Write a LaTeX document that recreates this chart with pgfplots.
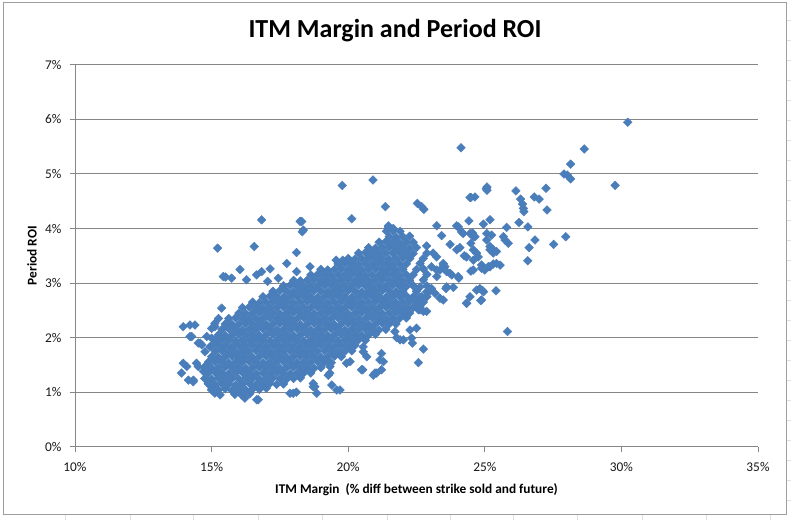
\documentclass[border=0pt]{standalone}
\usepackage{fontspec}
\setmainfont{Carlito}
\usepackage{pgfplots}
\pgfplotsset{compat=1.18}
\definecolor{excelblue}{HTML}{4A7EBB}
\definecolor{axgray}{HTML}{868686}
\begin{document}
\begin{tikzpicture}
\useasboundingbox (0,0) rectangle (593.25pt,390pt);
\fill[white] (0,0) rectangle (593.25pt,390pt);
\foreach \x in {48.75,97.5,144.75,193.5,241.5,290.25,337.5,384.75,432.75,481.5,529.5,577.5}
  \draw[gray!25,line width=0.5pt] (\x pt,0) -- (\x pt,3.75pt);
\foreach \y in {15,30,...,375}
  \draw[gray!25,line width=0.5pt] (589.5pt,\y pt) -- (593.25pt,\y pt);
\draw[axgray!80, line width=0.75pt] (2.25pt,3.75pt) rectangle (589.5pt,387.75pt);
\begin{axis}[
  at={(56.25pt,55pt)}, anchor=south west,
  scale only axis, width=512.25pt, height=286.3pt,
  xmin=10, xmax=35, ymin=0, ymax=7,
  axis lines*=left,
  axis line style={axgray, line width=0.75pt},
  xtick={10,15,20,25,30,35}, xticklabels={10\%,15\%,20\%,25\%,30\%,35\%},
  ytick={0,1,2,3,4,5,6,7}, yticklabels={0\%,1\%,2\%,3\%,4\%,5\%,6\%,7\%},
  tick align=outside, major tick length=3.75pt,
  tick style={axgray, line width=0.75pt},
  ymajorgrids, grid style={axgray, line width=0.75pt},
  ticklabel style={font=\fontsize{10}{12}\selectfont, color=black!90},
  xticklabel style={yshift=-4.5pt},
  yticklabel style={xshift=-3pt},
  title={ITM Margin and Period ROI},
  title style={font=\fontsize{19.5}{23}\selectfont\bfseries, at={(0.4685,1.068)}, anchor=center},
  xlabel={ITM Margin~ (\% diff between strike sold and future)},
  xlabel style={font=\fontsize{10}{12}\selectfont\bfseries, at={(axis description cs:0.5,-0.1135)}, anchor=center},
  ylabel={Period ROI},
  ylabel style={font=\fontsize{10}{12}\selectfont\bfseries, at={(axis description cs:-0.063,0.5)}, anchor=center},
]
\addplot[only marks, mark=square*, mark size=2.3pt,
  mark options={rotate=45, fill=excelblue, draw=excelblue, line width=0.3pt}]
coordinates {
(30.23,5.95)(24.13,5.48)(28.64,5.46)(28.14,5.18)(27.90,5.00)(28.02,4.98)(28.14,4.91)(29.77,4.79)
(25.08,4.76)(25.08,4.70)(24.46,4.57)(24.64,4.58)(26.14,4.69)(27.24,4.74)(26.31,4.54)(26.38,4.45)
(26.41,4.37)(26.43,4.31)(26.81,4.58)(26.99,4.54)(27.28,4.34)(26.25,4.11)(26.58,4.03)(25.80,4.02)
(25.19,4.16)(24.95,4.08)(24.42,4.14)(24.03,4.03)(24.15,3.94)(24.55,3.92)(24.58,3.85)(25.07,3.91)
(25.25,3.88)(25.68,3.85)(25.74,3.79)(25.86,3.73)(26.84,3.79)(26.62,3.65)(27.52,3.71)(27.96,3.85)
(26.57,3.41)(23.73,3.71)(24.09,3.65)(24.25,3.50)(24.49,3.73)(24.58,3.61)(24.70,3.55)(24.76,3.48)
(25.19,3.61)(25.31,3.55)(25.43,3.58)(23.48,3.36)(23.54,3.30)(23.36,3.24)(23.73,3.18)(24.49,3.22)
(24.88,3.27)(25.00,3.24)(25.13,3.30)(25.31,3.35)(25.56,3.33)(24.05,3.09)(23.58,2.90)(23.85,2.92)
(23.36,2.72)(24.70,2.87)(24.92,2.86)(25.41,2.86)(24.46,2.75)(24.34,2.63)(24.85,2.68)(25.83,2.11)
(19.78,4.79)(20.91,4.89)(21.36,4.40)(20.13,4.18)(22.53,4.46)(22.69,4.40)(22.77,4.35)(24.49,4.57)
(25.05,4.73)(23.24,4.05)(23.42,3.87)(23.97,4.05)(24.21,3.91)(21.47,4.02)(21.65,3.97)(22.87,3.68)
(23.11,3.55)(23.24,3.48)(23.48,3.33)(24.03,3.12)(23.05,2.90)(23.60,2.93)(22.57,2.51)(22.75,2.48)
(22.87,2.48)(24.33,2.63)(24.88,2.69)(22.26,2.14)(22.50,2.17)(21.71,2.11)(21.90,1.96)(22.35,1.90)
(22.75,1.79)(22.57,1.54)(21.16,1.59)(21.22,1.41)(21.04,1.35)(20.92,1.31)(20.55,1.74)(20.53,1.41)
(20.07,1.56)(19.33,1.47)(19.27,1.31)(18.72,1.10)(19.40,1.13)(19.70,1.04)(18.60,3.30)(18.24,4.13)
(18.36,3.97)(16.83,4.16)(18.30,4.13)(18.32,3.94)(15.22,3.64)(16.56,3.67)(18.11,3.56)(17.75,3.36)
(16.04,3.25)(15.51,3.11)(15.73,3.09)(16.28,3.06)(16.65,3.15)(16.83,3.21)(17.14,3.26)(17.05,3.03)
(17.44,3.09)(15.37,2.54)(15.25,2.35)(15.12,2.26)(15.00,2.17)(13.96,2.20)(14.21,2.23)(14.27,2.02)
(14.64,1.87)(14.51,1.90)(14.76,1.74)(15.00,1.99)(13.96,1.53)(14.09,1.47)(13.90,1.35)(14.15,1.22)
(14.33,1.19)(14.51,1.47)(14.70,1.38)(14.88,1.50)(14.88,1.16)(15.00,1.04)(15.12,0.98)(15.31,0.95)
(17.99,0.98)(16.71,0.86)(16.22,0.89)(18.78,1.10)(18.85,0.98)
(15.43,3.12)(18.11,3.21)(19.56,3.42)(19.80,3.42)(19.27,1.56)(19.33,1.35)(19.58,1.04)(19.94,1.53)
(20.49,1.41)(20.98,1.35)(21.29,1.56)(21.22,1.71)(20.55,1.83)(20.68,1.65)(21.77,2.00)(22.02,1.96)
(22.32,1.99)(22.63,2.51)(23.18,2.81)(23.24,3.12)(18.72,1.16)(17.87,0.98)(16.65,0.86)(18.10,1.00)
(14.45,1.53)(14.76,1.47)(14.33,1.22)(14.39,2.23)(14.21,2.02)(14.58,1.90)(14.82,2.02)(14.94,1.83)
(15.12,2.20)(23.05,3.30)(23.24,3.24)(23.60,3.21)(23.79,3.15)(22.63,2.93)(22.87,2.84)(22.69,2.75)
(23.48,2.69)(23.97,3.61)(24.33,3.48)(24.58,3.42)(24.88,3.33)(25.19,3.30)(25.43,3.36)(24.58,3.24)
(24.82,2.90)(24.95,2.84)(25.07,3.79)(25.19,3.67)(25.31,3.61)(24.46,3.91)(24.64,3.85)
(15.85,0.96)(16.10,0.95)(16.40,0.97)
(15.00,1.05)(15.25,1.04)(15.50,1.06)(15.75,1.03)(16.00,1.05)(16.25,1.04)(16.50,1.06)(16.75,1.05)(17.00,1.07)
(14.88,1.15)(15.13,1.14)(15.38,1.16)(15.63,1.15)(15.88,1.13)(16.13,1.15)(16.38,1.16)(16.63,1.14)(16.88,1.15)(17.13,1.16)(17.38,1.14)(17.63,1.15)
(14.75,1.25)(15.00,1.24)(15.25,1.26)(15.50,1.25)(15.75,1.25)(16.00,1.24)(16.25,1.26)(16.50,1.25)(16.75,1.24)(17.00,1.25)(17.25,1.26)(17.50,1.25)(17.75,1.24)(18.00,1.25)(18.25,1.26)
(14.88,1.35)(15.13,1.36)(15.38,1.35)(15.63,1.34)(15.88,1.35)(16.13,1.36)(16.38,1.35)(16.63,1.34)(16.88,1.35)(17.13,1.35)(17.38,1.36)(17.63,1.35)(17.88,1.34)(18.13,1.35)(18.38,1.36)(18.63,1.35)
(14.75,1.45)(15.00,1.44)(15.25,1.45)(15.50,1.46)(15.75,1.45)(16.00,1.45)(16.25,1.44)(16.50,1.45)(16.75,1.46)(17.00,1.45)(17.25,1.45)(17.50,1.44)(17.75,1.45)(18.00,1.46)(18.25,1.45)(18.50,1.45)(18.75,1.44)(19.00,1.45)
(14.88,1.55)(15.13,1.56)(15.38,1.55)(15.63,1.54)(15.88,1.55)(16.13,1.55)(16.38,1.56)(16.63,1.55)(16.88,1.54)(17.13,1.55)(17.38,1.55)(17.63,1.56)(17.88,1.55)(18.13,1.54)(18.38,1.55)(18.63,1.55)(18.88,1.56)(19.13,1.55)(19.38,1.54)
(15.00,1.65)(15.25,1.64)(15.50,1.65)(15.75,1.66)(16.00,1.65)(16.25,1.65)(16.50,1.64)(16.75,1.65)(17.00,1.66)(17.25,1.65)(17.50,1.65)(17.75,1.64)(18.00,1.65)(18.25,1.66)(18.50,1.65)(18.75,1.65)(19.00,1.64)(19.25,1.65)(19.50,1.66)(19.75,1.65)
(15.13,1.75)(15.38,1.76)(15.63,1.75)(15.88,1.74)(16.13,1.75)(16.38,1.75)(16.63,1.76)(16.88,1.75)(17.13,1.74)(17.38,1.75)(17.63,1.75)(17.88,1.76)(18.13,1.75)(18.38,1.74)(18.63,1.75)(18.88,1.75)(19.13,1.76)(19.38,1.75)(19.63,1.74)(19.88,1.75)(20.13,1.76)
(15.00,1.85)(15.25,1.86)(15.50,1.85)(15.75,1.84)(16.00,1.85)(16.25,1.85)(16.50,1.86)(16.75,1.85)(17.00,1.84)(17.25,1.85)(17.50,1.85)(17.75,1.86)(18.00,1.85)(18.25,1.84)(18.50,1.85)(18.75,1.85)(19.00,1.86)(19.25,1.85)(19.50,1.84)(19.75,1.85)(20.00,1.85)(20.25,1.86)
(15.13,1.95)(15.38,1.96)(15.63,1.95)(15.88,1.94)(16.13,1.95)(16.38,1.95)(16.63,1.96)(16.88,1.95)(17.13,1.94)(17.38,1.95)(17.63,1.95)(17.88,1.96)(18.13,1.95)(18.38,1.94)(18.63,1.95)(18.88,1.95)(19.13,1.96)(19.38,1.95)(19.63,1.94)(19.88,1.95)(20.13,1.95)(20.38,1.96)(20.63,1.95)
(15.25,2.05)(15.50,2.04)(15.75,2.05)(16.00,2.06)(16.25,2.05)(16.50,2.05)(16.75,2.04)(17.00,2.05)(17.25,2.06)(17.50,2.05)(17.75,2.05)(18.00,2.04)(18.25,2.05)(18.50,2.06)(18.75,2.05)(19.00,2.05)(19.25,2.04)(19.50,2.05)(19.75,2.06)(20.00,2.05)(20.25,2.05)(20.50,2.04)(20.75,2.05)(21.00,2.06)
(15.38,2.15)(15.63,2.16)(15.88,2.15)(16.13,2.14)(16.38,2.15)(16.63,2.15)(16.88,2.16)(17.13,2.15)(17.38,2.14)(17.63,2.15)(17.88,2.15)(18.13,2.16)(18.38,2.15)(18.63,2.14)(18.88,2.15)(19.13,2.15)(19.38,2.16)(19.63,2.15)(19.88,2.14)(20.13,2.15)(20.38,2.15)(20.63,2.16)(20.88,2.15)(21.13,2.14)(21.38,2.15)
(15.50,2.25)(15.75,2.24)(16.00,2.25)(16.25,2.26)(16.50,2.25)(16.75,2.25)(17.00,2.24)(17.25,2.25)(17.50,2.26)(17.75,2.25)(18.00,2.25)(18.25,2.24)(18.50,2.25)(18.75,2.26)(19.00,2.25)(19.25,2.25)(19.50,2.24)(19.75,2.25)(20.00,2.26)(20.25,2.25)(20.50,2.25)(20.75,2.24)(21.00,2.25)(21.25,2.26)(21.50,2.25)(21.75,2.25)
(15.63,2.35)(15.88,2.36)(16.13,2.35)(16.38,2.34)(16.63,2.35)(16.88,2.35)(17.13,2.36)(17.38,2.35)(17.63,2.34)(17.88,2.35)(18.13,2.35)(18.38,2.36)(18.63,2.35)(18.88,2.34)(19.13,2.35)(19.38,2.35)(19.63,2.36)(19.88,2.35)(20.13,2.34)(20.38,2.35)(20.63,2.35)(20.88,2.36)(21.13,2.35)(21.38,2.34)(21.63,2.35)(21.88,2.35)(22.13,2.36)
(16.00,2.45)(16.25,2.44)(16.50,2.45)(16.75,2.46)(17.00,2.45)(17.25,2.45)(17.50,2.44)(17.75,2.45)(18.00,2.46)(18.25,2.45)(18.50,2.45)(18.75,2.44)(19.00,2.45)(19.25,2.46)(19.50,2.45)(19.75,2.45)(20.00,2.44)(20.25,2.45)(20.50,2.46)(20.75,2.45)(21.00,2.45)(21.25,2.44)(21.50,2.45)(21.75,2.46)(22.00,2.45)(22.25,2.45)
(16.13,2.55)(16.38,2.56)(16.63,2.55)(16.88,2.54)(17.13,2.55)(17.38,2.55)(17.63,2.56)(17.88,2.55)(18.13,2.54)(18.38,2.55)(18.63,2.55)(18.88,2.56)(19.13,2.55)(19.38,2.54)(19.63,2.55)(19.88,2.55)(20.13,2.56)(20.38,2.55)(20.63,2.54)(20.88,2.55)(21.13,2.55)(21.38,2.56)(21.63,2.55)(21.88,2.54)(22.13,2.55)(22.38,2.55)(22.63,2.56)
(16.50,2.65)(16.75,2.64)(17.00,2.65)(17.25,2.66)(17.50,2.65)(17.75,2.65)(18.00,2.64)(18.25,2.65)(18.50,2.66)(18.75,2.65)(19.00,2.65)(19.25,2.64)(19.50,2.65)(19.75,2.66)(20.00,2.65)(20.25,2.65)(20.50,2.64)(20.75,2.65)(21.00,2.66)(21.25,2.65)(21.50,2.65)(21.75,2.64)(22.00,2.65)(22.25,2.66)(22.50,2.65)(22.75,2.65)
(16.88,2.75)(17.13,2.76)(17.38,2.75)(17.63,2.74)(17.88,2.75)(18.13,2.75)(18.38,2.76)(18.63,2.75)(18.88,2.74)(19.13,2.75)(19.38,2.75)(19.63,2.76)(19.88,2.75)(20.13,2.74)(20.38,2.75)(20.63,2.75)(20.88,2.76)(21.13,2.75)(21.38,2.74)(21.63,2.75)(21.88,2.75)(22.13,2.76)(22.38,2.75)(22.63,2.74)(22.88,2.75)
(17.25,2.85)(17.50,2.86)(17.75,2.85)(18.00,2.84)(18.25,2.85)(18.50,2.85)(18.75,2.86)(19.00,2.85)(19.25,2.84)(19.50,2.85)(19.75,2.85)(20.00,2.86)(20.25,2.85)(20.50,2.84)(20.75,2.85)(21.00,2.85)(21.25,2.86)(21.50,2.85)(21.75,2.84)(22.00,2.85)(22.50,2.85)(23.00,2.86)
(17.63,2.95)(17.88,2.96)(18.13,2.95)(18.38,2.94)(18.63,2.95)(18.88,2.95)(19.13,2.96)(19.38,2.95)(19.63,2.94)(19.88,2.95)(20.13,2.95)(20.38,2.96)(20.63,2.95)(20.88,2.94)(21.13,2.95)(21.38,2.95)(21.63,2.96)(21.88,2.95)(22.13,2.94)(22.38,2.95)(22.88,2.95)
(18.00,3.05)(18.25,3.04)(18.50,3.05)(18.75,3.06)(19.00,3.05)(19.25,3.05)(19.50,3.04)(19.75,3.05)(20.00,3.06)(20.25,3.05)(20.50,3.05)(20.75,3.04)(21.00,3.05)(21.25,3.06)(21.50,3.05)(21.75,3.05)(22.00,3.04)(22.25,3.05)(22.75,3.06)
(18.63,3.15)(18.88,3.16)(19.13,3.15)(19.38,3.14)(19.63,3.15)(19.88,3.15)(20.13,3.16)(20.38,3.15)(20.63,3.14)(20.88,3.15)(21.13,3.15)(21.38,3.16)(21.63,3.15)(21.88,3.14)(22.13,3.15)(22.38,3.15)(22.88,3.16)
(19.00,3.25)(19.25,3.24)(19.50,3.25)(19.75,3.26)(20.00,3.25)(20.25,3.25)(20.50,3.24)(20.75,3.25)(21.00,3.26)(21.25,3.25)(21.50,3.25)(21.75,3.24)(22.00,3.25)(22.50,3.25)(22.75,3.26)
(19.63,3.35)(19.88,3.36)(20.13,3.35)(20.38,3.34)(20.63,3.35)(20.88,3.35)(21.13,3.36)(21.38,3.35)(21.63,3.34)(21.88,3.35)(22.13,3.35)(22.63,3.36)
(20.00,3.45)(20.25,3.44)(20.50,3.45)(20.75,3.46)(21.00,3.45)(21.25,3.45)(21.50,3.44)(21.75,3.45)(22.00,3.46)(22.25,3.45)(22.75,3.45)
(20.38,3.55)(20.63,3.56)(20.88,3.55)(21.13,3.54)(21.38,3.55)(21.63,3.55)(21.88,3.56)(22.13,3.55)(22.38,3.54)(22.88,3.55)
(20.75,3.65)(21.00,3.64)(21.25,3.65)(21.50,3.66)(21.75,3.65)(22.00,3.65)(22.25,3.64)(22.50,3.65)
(21.13,3.75)(21.38,3.76)(21.63,3.75)(21.88,3.74)(22.13,3.75)(22.38,3.75)
(21.50,3.85)(21.75,3.84)(22.00,3.85)(22.25,3.86)
(21.40,3.95)(21.65,3.96)(21.90,3.95)(21.47,4.05)(21.65,4.00)
};
\end{axis}
\end{tikzpicture}
\end{document}
